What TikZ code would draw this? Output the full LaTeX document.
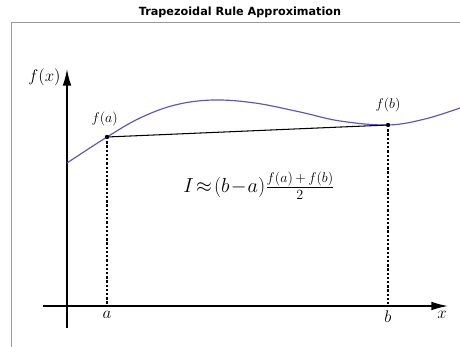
\documentclass[tikz,border=0pt]{standalone}
\usepackage{fontspec}
\usepackage{amsmath}
\usetikzlibrary{arrows.meta, positioning, calc}
\newfontfamily\titlefont{DejaVu Sans}
\definecolor{curvecol}{rgb}{0.38,0.33,0.74}
\definecolor{framecol}{rgb}{0.62,0.60,0.60}
\tikzset{
  axis/.style={line width=1.2pt, -{Latex[length=5mm,width=2.6mm]}},
  guide/.style={dash pattern=on 2pt off 1.6pt, line width=0.9pt},
  dot/.style={circle, fill=black, inner sep=0pt, minimum size=1.3mm},
  lbl/.style={font=\large, inner sep=1pt}
}

\begin{document}
\begin{tikzpicture}[x=0.03cm, y=-0.03cm]
  \useasboundingbox (0,0) rectangle (460,347);

  % Frame and title
  \draw[framecol, line width=0.8pt] (11,347) -- (11,22) -- (460,22);
  \node[font=\titlefont\bfseries\fontsize{9.6}{11}\selectfont] (title) at (240,12) {Trapezoidal Rule Approximation};

  % Set up axes
  \coordinate (xs) at (43,306);
  \coordinate (xe) at (448,306);
  \coordinate (ys) at (67,328);
  \coordinate (ye) at (67,69);
  \draw[axis] (xs) -- (xe);
  \draw[axis] (ys) -- (ye);
  \node[lbl, font=\Large, anchor=east] (fx) at (62,77) {$f(x)$};
  \node[lbl, font=\Large, anchor=north] (xl) at (442,310) {$x$};

  % Function
  \draw[curvecol, line width=1pt] plot[smooth, tension=0.6] coordinates
    {(67,163) (107,137) (140,118) (175,105) (213,100) (255,103) (300,112) (340,121) (388,125) (425,119) (460,108)};

  % Trapezoid top
  \coordinate (pa) at (107,137);
  \coordinate (pb) at (388,125);
  \coordinate (qa) at (107,306);
  \coordinate (qb) at (388,306);
  \draw[line width=0.9pt] (pa) -- (pb);
  \draw[guide] (pa) -- (qa);
  \draw[guide] (pb) -- (qb);
  \node[dot] (da) at (pa) {};
  \node[dot] (db) at (pb) {};

  % Labels
  \node[lbl, above=6pt of da, xshift=-2pt] (fa) {$f(a)$};
  \node[lbl, above=8pt of db] (fb) {$f(b)$};
  \node[lbl, font=\Large, below=3pt of qa] (al) {$a$};
  \node[lbl, font=\Large, below=3pt of qb] (bl) {$b$};

  % Formula
  \node[font=\LARGE] (rule) at (259,186) {$I\!\approx\!(b\!-\!a)\frac{f(a)\,+\,f(b)}{2}$};
\end{tikzpicture}
\end{document}
